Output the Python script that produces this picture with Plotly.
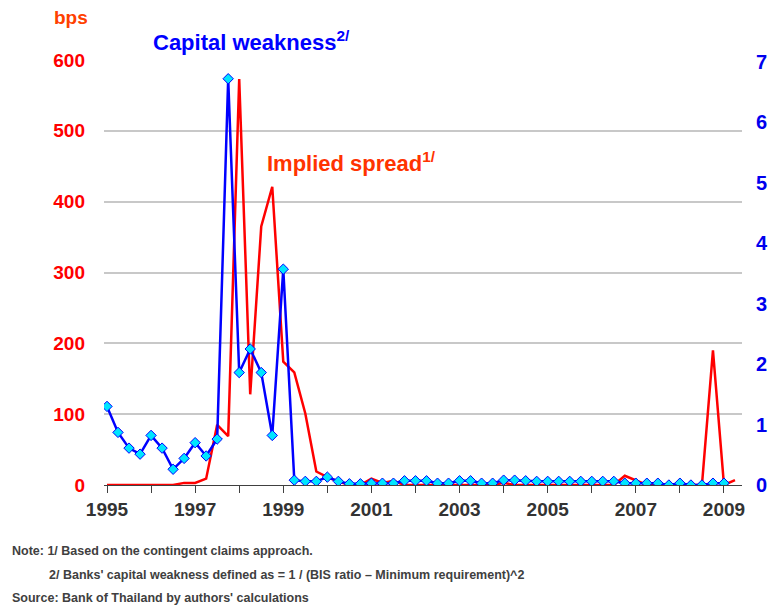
import numpy as np
import plotly.graph_objects as go

# quarterly data, 1995Q1 onwards
start_year = 1995
spread_bps = [0, 0, 0, 0, 0, 0, 0, 3, 3, 9,
              85, 69, 573, 128, 365, 421, 174, 159, 101, 19,
              11, 5, 0, 0, 9, 3, 6, 0, 0, 0,
              0, 0, 0, 0, 0, 0, 3, 0, 0, 0,
              0, 0, 0, 0, 0, 0, 0, 13, 6, 0,
              0, 0, 0, 0, 0, 190, 0, 7]
capital_weakness = [1.30, 0.87, 0.61, 0.51, 0.82, 0.61, 0.26, 0.44, 0.70, 0.48,
                    0.76, 6.72, 1.86, 2.25, 1.86, 0.82, 3.57, 0.08, 0.06, 0.06,
                    0.13, 0.06, 0.02, 0.02, 0.03, 0.03, 0.03, 0.07, 0.07, 0.07,
                    0.03, 0.03, 0.07, 0.07, 0.03, 0.03, 0.08, 0.08, 0.07, 0.06,
                    0.06, 0.06, 0.06, 0.06, 0.06, 0.06, 0.06, 0.03, 0.03, 0.03,
                    0.03, 0.0, 0.03, 0.0, 0.0, 0.03, 0.03]
label_years = [1995, 1997, 1999, 2001, 2003, 2005, 2007, 2009]
other_years = [1996, 1998, 2000, 2002, 2004, 2006, 2008]
left_ticks = [0, 100, 200, 300, 400, 500, 600]
right_ticks = [0, 1, 2, 3, 4, 5, 6, 7]

t_spread = start_year + np.arange(len(spread_bps)) / 4
t_cap = start_year + np.arange(len(capital_weakness)) / 4

ARIAL = "Liberation Sans, Arial, sans-serif"

fig = go.Figure()

fig.add_trace(go.Scatter(x=t_spread, y=spread_bps, mode="lines",
                         line=dict(color="#FF0000", width=2.5),
                         name="Implied spread", yaxis="y"))

fig.add_trace(go.Scatter(x=t_cap, y=capital_weakness, mode="lines+markers",
                         line=dict(color="#0000FF", width=2.5),
                         marker=dict(symbol="diamond", size=8, color="#00E5FF",
                                     line=dict(color="#0000FF", width=1)),
                         name="Capital weakness", yaxis="y2"))

fig.update_layout(
    width=771, height=610,
    margin=dict(l=104, r=29, t=60, b=125),
    paper_bgcolor="white", plot_bgcolor="white",
    showlegend=False,
    xaxis=dict(range=[1994.932, 2009.409], tickvals=label_years,
               ticktext=[str(y) for y in label_years],
               ticks="outside", ticklen=7, tickcolor="#404040", tickwidth=1,
               minor=dict(tickvals=other_years, ticks="outside", ticklen=7,
                          tickcolor="#404040", tickwidth=1, showgrid=False),
               showline=True, linecolor="#404040", linewidth=1,
               showgrid=False, zeroline=False, automargin=False,
               tickfont=dict(family=ARIAL, size=19, color="#333333", weight="bold")),
    yaxis=dict(range=[0, 600], tickvals=left_ticks, showgrid=True,
               gridcolor="#C8C8C8", gridwidth=1.5, zeroline=False,
               showline=False, ticks="", ticklabelstandoff=18, automargin=False,
               tickfont=dict(family=ARIAL, size=19, color="#FF0000", weight="bold")),
    yaxis2=dict(range=[0, 7.03], tickvals=right_ticks, overlaying="y", side="right",
                showgrid=False, zeroline=False, showline=False, ticks="",
                ticklabelstandoff=13, automargin=False,
                tickfont=dict(family=ARIAL, size=20, color="#0000EE", weight="bold")),
)

fig.add_annotation(text="bps", xref="paper", yref="paper", x=-0.052, y=1.1,
                   xanchor="center", yanchor="middle", showarrow=False,
                   font=dict(family=ARIAL, size=19, color="#FF4000", weight="bold"))
fig.add_annotation(text="Capital weakness<sup>2/</sup>", xref="paper", yref="paper",
                   x=0.073, y=1.044, xanchor="left", yanchor="middle", showarrow=False,
                   font=dict(family=ARIAL, size=22, color="#0000FF", weight="bold"))
fig.add_annotation(text="Implied spread<sup>1/</sup>", xref="paper", yref="paper",
                   x=0.252, y=0.76, xanchor="left", yanchor="middle", showarrow=False,
                   font=dict(family=ARIAL, size=22, color="#FF3300", weight="bold"))

notes = [
    ("Note: 1/ Based on the contingent claims approach.", 10, 551),
    ("2/ Banks' capital weakness defined as = 1 / (BIS ratio \u2013 Minimum requirement)^2", 47, 575),
    ("Source: Bank of Thailand by authors' calculations", 10, 598),
]
for txt, px_x, px_y in notes:
    fig.add_annotation(text=txt, xref="paper", yref="paper",
                       x=(px_x - 104) / 638, y=(485 - px_y) / 425,
                       xanchor="left", yanchor="middle", showarrow=False,
                       font=dict(family=ARIAL, size=12.5, color="#404040", weight="bold"))

# page has a default 8px body margin; drop it so the figure sits at the corner
fig.write_html("out.html", config={"displayModeBar": False},
               post_script="document.body.style.margin='0';")
